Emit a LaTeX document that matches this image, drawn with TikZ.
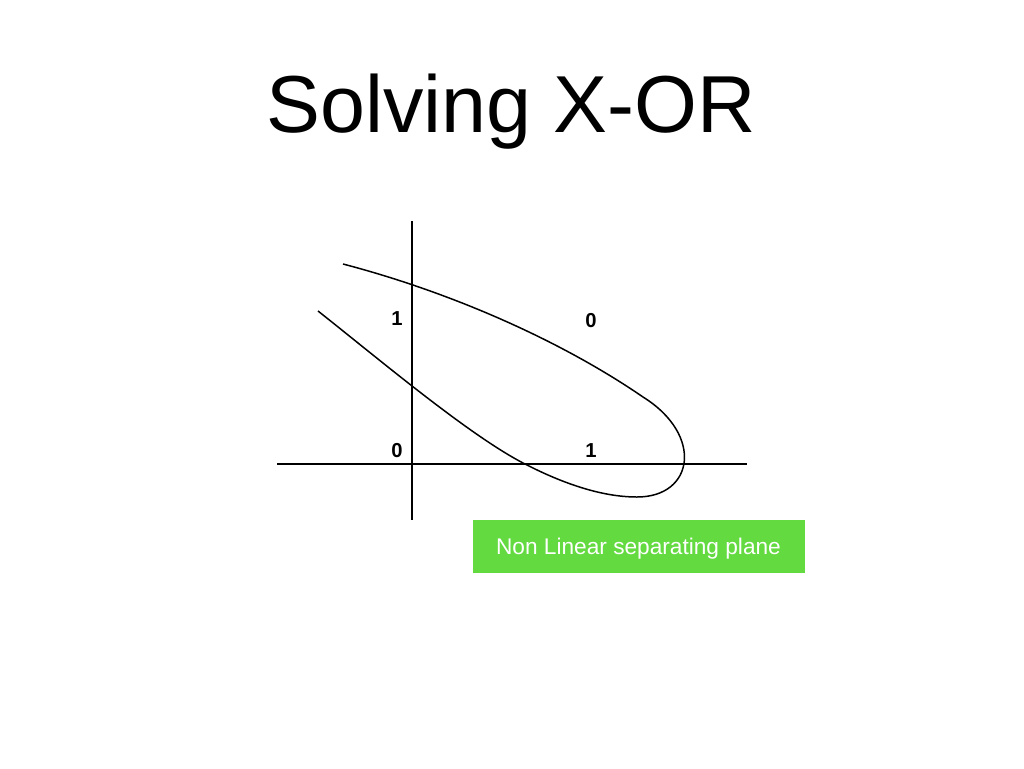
\documentclass[tikz,border=0pt]{standalone}
\usepackage{fontspec}
\setmainfont{Liberation Sans}
\usepackage{xcolor}
\usetikzlibrary{positioning}
\definecolor{boxgreen}{RGB}{98,218,64}
\begin{document}
\begin{tikzpicture}[x=0.02cm, y=-0.02cm,
  axis/.style={line width=0.85pt},
  pt/.style={font=\fontsize{11.5}{13}\selectfont\bfseries, inner sep=0pt},
  tag/.style={fill=boxgreen, text=white, font=\fontsize{12.9}{14}\selectfont,
    text depth=0pt, minimum width=332*0.02cm, minimum height=53*0.02cm, inner sep=0pt}]
\useasboundingbox (0,0) rectangle (1024,768);
\node[font=\fontsize{46}{50}\selectfont, inner sep=0pt] (title) at (511,112) {Solving X-OR};
\coordinate (ytop) at (412,221);
\coordinate (ybot) at (412,520);
\coordinate (xleft) at (277,464);
\coordinate (xright) at (747,464);
\draw[axis] (ytop) -- (ybot);
\draw[axis] (xleft) -- (xright);
\node[pt] (p01) at (397,319) {1};
\node[pt] (p11) at (591,321) {0};
\node[pt] (p00) at (397,451) {0};
\node[pt] (p10) at (591,451) {1};
\coordinate (c1) at (343,264);
\coordinate (c2) at (643,397);
\coordinate (c3) at (637,497);
\coordinate (c4) at (525,464);
\coordinate (c5) at (318,311);
\draw[axis] (c1) .. controls (450,292) and (560,340) .. (c2)
  .. controls (704,435) and (694,497) .. (c3)
  .. controls (600,497) and (560,482) .. (c4)
  .. controls (470,436) and (380,360) .. (c5);
\node[tag] (plane) at (638.5,546.5) {Non Linear separating plane};
\end{tikzpicture}
\end{document}
